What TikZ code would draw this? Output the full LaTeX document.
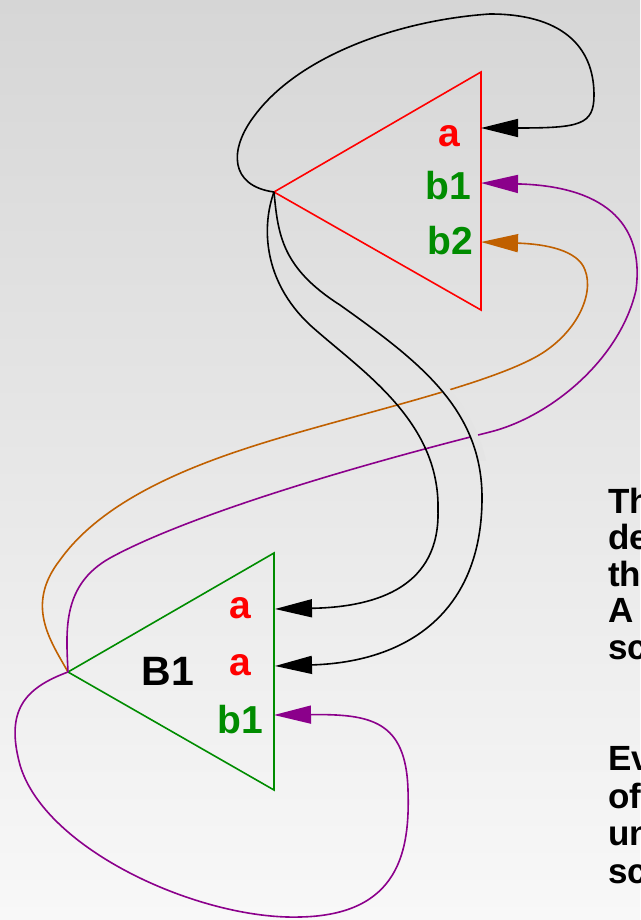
\documentclass[tikz,border=0pt]{standalone}
\usepackage{fontspec}
\setmainfont{Liberation Sans}
\usetikzlibrary{arrows.meta}
\definecolor{bgtop}{RGB}{214,214,214}
\definecolor{bgbot}{RGB}{248,248,248}
\definecolor{bgmid}{RGB}{228,228,228}
\definecolor{portgreen}{RGB}{0,140,0}
\definecolor{wirepurple}{RGB}{139,0,139}
\definecolor{wireorange}{RGB}{192,96,0}
\begin{document}
\begin{tikzpicture}[x=1pt,y=-1pt,
  wire/.style={line width=1.6pt,-{Triangle[length=37pt,width=18pt]}},
  tri/.style={line width=1.6pt,line join=miter},
  portlbl/.style={anchor=base,inner sep=0pt,font=\fontsize{39pt}{39pt}\selectfont\bfseries},
  bodytext/.style={anchor=base west,inner sep=0pt,font=\fontsize{35pt}{36pt}\selectfont\bfseries},
  halo/.style={line width=8pt,draw=bgmid}]
 \shade[top color=bgtop,bottom color=bgbot] (0,0) rectangle (640,920);
 \useasboundingbox (0,0) rectangle (640,920);
 % block A
 \coordinate (A) at (274,192);
 \coordinate (A-a) at (481,128);
 \coordinate (A-b1) at (481,183);
 \coordinate (A-b2) at (481,242);
 \draw[tri,red] (A) -- (481,72) -- (481,310) -- cycle;
 \node[portlbl,red] (lbl-Aa) at (449,146.5) {a};
 \node[portlbl,portgreen] (lbl-Ab1) at (448,200) {b1};
 \node[portlbl,portgreen] (lbl-Ab2) at (450,254) {b2};
 % block B1
 \coordinate (B) at (68,672);
 \coordinate (B-a1) at (275,609);
 \coordinate (B-a2) at (275,666);
 \coordinate (B-b1) at (274,715);
 \draw[tri,portgreen] (B) -- (274,553) -- (274,790) -- cycle;
 \node[portlbl,red] (lbl-Ba1) at (240,618) {a};
 \node[portlbl,red] (lbl-Ba2) at (240,675) {a};
 \node[portlbl,portgreen] (lbl-Bb1) at (240,733) {b1};
 \node[portlbl,font=\fontsize{41pt}{41pt}\selectfont\bfseries] (lbl-B) at (168,685) {B1};
 % wires
 \draw[wire,wireorange] (B) .. controls (50,640) and (25,605) .. (60,560)
   .. controls (110,490) and (220,455) .. (300,432)
   .. controls (380,409) and (480,385) .. (530,360)
   .. controls (575,338) and (595,295) .. (585,270)
   .. controls (578,250) and (545,244) .. (A-b2);
 \draw[wire,wirepurple] (B) .. controls (66,630) and (62,585) .. (110,558)
   .. controls (170,525) and (300,480) .. (490,432)
   .. controls (550,417) and (620,360) .. (636,290)
   .. controls (645,220) and (600,186) .. (A-b1);
 \draw[wire,wirepurple] (B) .. controls (25,688) and (5,710) .. (20,765)
   .. controls (45,850) and (200,920) .. (300,917)
   .. controls (400,915) and (410,850) .. (408,790)
   .. controls (406,720) and (370,714) .. (B-b1);
 \draw[wire] (A) .. controls (230,186) and (228,150) .. (255,115)
   .. controls (300,55) and (400,20) .. (490,14)
   .. controls (560,14) and (594,45) .. (594,95)
   .. controls (594,125) and (580,128) .. (A-a);
 \draw[wire] (A) .. controls (262,225) and (262,280) .. (310,325)
   .. controls (360,370) and (440,420) .. (438,510)
   .. controls (440,585) and (380,607) .. (B-a1);
 \begin{scope}
  \clip (400,370) rectangle (520,460);
  \draw[halo,xshift=4pt] (340,305) .. controls (420,362) and (483,410) .. (482,500);
 \end{scope}
 \draw[wire] (A) .. controls (278,235) and (282,268) .. (340,305)
   .. controls (420,362) and (483,410) .. (482,500)
   .. controls (481,610) and (410,662) .. (B-a2);
 % text at the right edge
 \foreach \w [count=\i from 0] in {Th,de,th,A,sc}
  \node[bodytext] (para1-\i) at (608,{513+36.5*\i}) {\w};
 \foreach \w [count=\i from 0] in {Ev,of,un,sc}
  \node[bodytext] (para2-\i) at (608,{770.5+37.5*\i}) {\w};
\end{tikzpicture}
\end{document}
